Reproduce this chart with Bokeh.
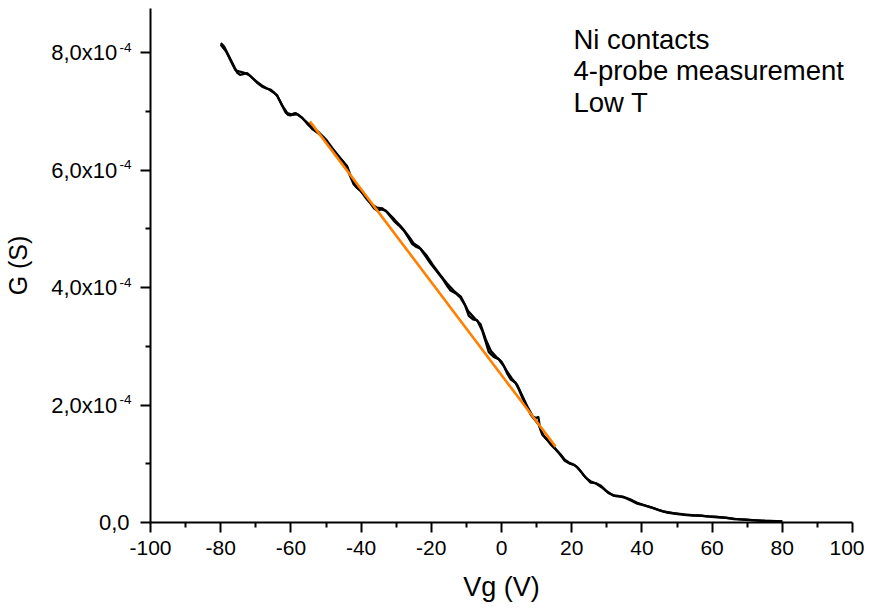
from bokeh.plotting import figure
from bokeh.models import FixedTicker, Range1d, Label, LinearAxis
from bokeh.embed import file_html
from bokeh.resources import INLINE

# ---- data (G in units of 1e-4 S) ----
vg_a = [-80.0, -79.0, -78.0, -77.0, -76.0, -75.3, -74.5, -73.9, -72.5, -71.5, -70.7, -69.5,
        -68.2, -67.0, -65.8, -64.8, -63.9, -63.0, -62.0, -61.5, -60.8, -60.1, -59.3, -58.7,
        -57.8, -56.8, -55.5, -53.9, -52.3, -50.6, -49.3, -48.2, -46.9, -45.9, -44.9, -44.0,
        -43.0, -42.1, -41.2, -40.2, -38.7, -37.3, -36.3, -35.4, -34.3, -33.0, -31.8, -30.7,
        -29.3, -27.8, -26.6, -25.4, -24.2, -23.1, -21.6, -20.2, -18.5, -16.9, -15.6, -14.5,
        -13.0, -11.7, -10.4, -9.3, -8.1, -6.9, -5.5, -4.5, -3.6, -2.2, -0.8, 0.7, 1.7, 2.6,
        4.0, 5.0, 5.9, 7.2, 8.3, 9.5, 10.6, 11.6, 12.8, 14.0, 15.5, 16.8, 18.0, 19.2, 20.4,
        21.6, 23.5, 25.4, 26.8, 28.2, 30.0, 31.8, 33.3, 34.8, 36.7, 38.7, 40.6, 42.5, 44.8,
        47.2, 49.6, 52.0, 54.4, 56.7, 59.0, 61.5, 64.0, 66.2, 68.5, 70.9, 75.0, 80.0]
g_a = [8.16, 8.10, 7.98, 7.86, 7.74, 7.66, 7.62, 7.63, 7.65, 7.60, 7.55, 7.48,
       7.42, 7.39, 7.37, 7.32, 7.26, 7.16, 7.04, 6.98, 6.94, 6.93, 6.96, 6.97,
       6.93, 6.89, 6.80, 6.70, 6.63, 6.55, 6.44, 6.33, 6.24, 6.19, 6.12, 6.03,
       5.88, 5.76, 5.70, 5.65, 5.53, 5.43, 5.35, 5.31, 5.33, 5.31, 5.22, 5.14,
       5.06, 4.97, 4.86, 4.74, 4.69, 4.66, 4.53, 4.41, 4.28, 4.16, 4.04, 3.95,
       3.90, 3.83, 3.70, 3.52, 3.46, 3.44, 3.27, 3.08, 2.90, 2.82, 2.78, 2.66, 2.53, 2.44,
       2.38, 2.26, 2.13, 1.98, 1.84, 1.75, 1.67, 1.50, 1.42, 1.33, 1.24, 1.16, 1.07, 1.02, 0.99,
       0.94, 0.80, 0.68, 0.67, 0.63, 0.53, 0.46, 0.45, 0.43, 0.38, 0.32, 0.29, 0.26, 0.21,
       0.17, 0.15, 0.13, 0.12, 0.12, 0.10, 0.09, 0.08, 0.06, 0.05, 0.04, 0.03, 0.02]

vg_b = [-80.0, -78.5, -77.0, -75.8, -74.8, -73.5, -72.0, -70.0, -68.0, -66.0, -64.0, -62.5,
        -61.0, -59.5, -58.0, -56.5, -54.5, -52.0, -50.0, -48.0, -46.0, -44.0, -42.5, -41.0,
        -39.0, -37.0, -35.5, -34.0, -32.5, -30.5, -28.5, -26.5, -25.0, -23.5, -21.5, -19.5,
        -17.5, -15.5, -13.5, -11.5, -9.5, -7.5, -6.0, -4.5, -3.0, -1.5, 0.0, 1.5, 3.0, 4.5,
        6.0, 7.5, 9.0, 10.0, 10.5, 11.0, 12.0, 13.5, 15.0, 16.5, 18.0, 19.5, 21.0, 22.5,
        24.0, 25.5, 27.0, 28.5, 30.5, 32.5, 34.5, 36.5, 38.5, 41.0, 43.5, 46.0, 49.0, 52.0,
        55.0, 58.0, 61.0, 64.0, 67.0, 70.0, 74.0, 80.0]
g_b = [8.13, 8.02, 7.84, 7.70, 7.68, 7.66, 7.62, 7.52, 7.43, 7.36, 7.28, 7.10,
       6.97, 6.94, 6.95, 6.87, 6.76, 6.64, 6.52, 6.36, 6.21, 6.07, 5.83, 5.69,
       5.58, 5.42, 5.36, 5.35, 5.28, 5.16, 5.03, 4.88, 4.75, 4.69, 4.56, 4.38,
       4.22, 4.07, 3.94, 3.84, 3.60, 3.47, 3.38, 3.12, 2.92, 2.82, 2.74, 2.58, 2.45, 2.34,
       2.15, 1.96, 1.80, 1.78, 1.80, 1.60, 1.48, 1.38, 1.28, 1.17, 1.05, 1.00, 0.97, 0.88,
       0.76, 0.70, 0.66, 0.60, 0.50, 0.45, 0.44, 0.40, 0.34, 0.29, 0.24, 0.19, 0.16, 0.14,
       0.12, 0.11, 0.10, 0.08, 0.06, 0.05, 0.03, 0.02]

# linear fit (G = intercept + slope * Vg), G in 1e-4 S
fit_range = [-54.6, 15.4]
fit_intercept = 2.51
fit_slope = -0.0791

x_ticks = [-100, -80, -60, -40, -20, 0, 20, 40, 60, 80, 100]
x_minor = [-90, -70, -50, -30, -10, 10, 30, 50, 70, 90]
y_ticks = [0.0, 2e-4, 4e-4, 6e-4, 8e-4]
y_minor = [1e-4, 3e-4, 5e-4, 7e-4]
y_mantissa = ["0,0", "2,0x10", "4,0x10", "6,0x10", "8,0x10"]
y_exponent = ["", "-4", "-4", "-4", "-4"]
notes = ["Ni contacts", "4-probe measurement", "Low T"]
note_levels = [8.230, 7.694, 7.157]

SCALE = 1e-4
FONT = "Liberation Sans"
PAD = "\u00a0\u00a0"   # room kept free for the exponent

p = figure(width=864, height=605, output_backend="svg", toolbar_location=None,
           x_range=Range1d(-100, 100), y_range=Range1d(0, 8.75e-4),
           min_border_left=150, min_border_right=12, min_border_top=8, min_border_bottom=83)
p.outline_line_color = None
p.xgrid.grid_line_color = None
p.ygrid.grid_line_color = None
p.background_fill_color = "white"
p.border_fill_color = "white"

p.line(vg_a, [g * SCALE for g in g_a], line_color="black", line_width=2.4)
p.line(vg_b, [g * SCALE for g in g_b], line_color="black", line_width=2.2)

fit_y = [(fit_intercept + fit_slope * v) * SCALE for v in fit_range]
p.line(fit_range, fit_y, line_color="#FF8000", line_width=2.6)

for ax in (p.xaxis[0], p.yaxis[0]):
    ax.axis_line_width = 2
    ax.major_tick_line_width = 2
    ax.minor_tick_line_width = 2
    ax.major_tick_in = 0
    ax.major_tick_out = 10
    ax.minor_tick_in = 0
    ax.minor_tick_out = 5
    ax.major_label_text_font = FONT
    ax.major_label_text_color = "black"

# x axis
xa = p.xaxis[0]
xa.ticker = FixedTicker(ticks=x_ticks, minor_ticks=x_minor)
xa.major_label_overrides = {t: str(t) for t in x_ticks}
xa.major_label_text_font_size = "21px"
xa.major_label_standoff = 8
xa.axis_label = "Vg (V)"
xa.axis_label_text_font = FONT
xa.axis_label_text_font_size = "27px"
xa.axis_label_text_font_style = "normal"
xa.axis_label_text_color = "black"
xa.axis_label_standoff = 14

# y axis (inner): line, ticks and the raised exponents
ya = p.yaxis[0]
ya.ticker = FixedTicker(ticks=y_ticks, minor_ticks=y_minor)
ya.major_label_overrides = {t: (e + "\n" if e else "") for t, e in zip(y_ticks, y_exponent)}
ya.major_label_text_font_size = "13.5px"
ya.major_label_text_line_height = 0.68
ya.major_label_standoff = 9

# y axis (outer): mantissas and the axis title
yb = LinearAxis(ticker=FixedTicker(ticks=y_ticks, minor_ticks=y_minor))
yb.major_label_overrides = {t: (m + PAD if e else m) for t, m, e in zip(y_ticks, y_mantissa, y_exponent)}
yb.axis_line_color = None
yb.major_tick_line_color = None
yb.minor_tick_line_color = None
yb.major_tick_in = 0
yb.major_tick_out = 0
yb.minor_tick_in = 0
yb.minor_tick_out = 0
yb.major_label_standoff = -13
yb.major_label_text_font = FONT
yb.major_label_text_font_size = "22px"
yb.major_label_text_color = "black"
yb.axis_label = "G (S)"
yb.axis_label_text_font = FONT
yb.axis_label_text_font_size = "25px"
yb.axis_label_text_font_style = "normal"
yb.axis_label_text_color = "black"
yb.axis_label_standoff = 16
p.add_layout(yb, "left")

for txt, yy in zip(notes, note_levels):
    p.add_layout(Label(x=20.5, y=yy * SCALE, text=txt, text_font=FONT, text_font_size="27.5px",
                       text_color="black", text_baseline="alphabetic", text_align="left"))

open("out.html", "w").write(file_html(p, INLINE))
